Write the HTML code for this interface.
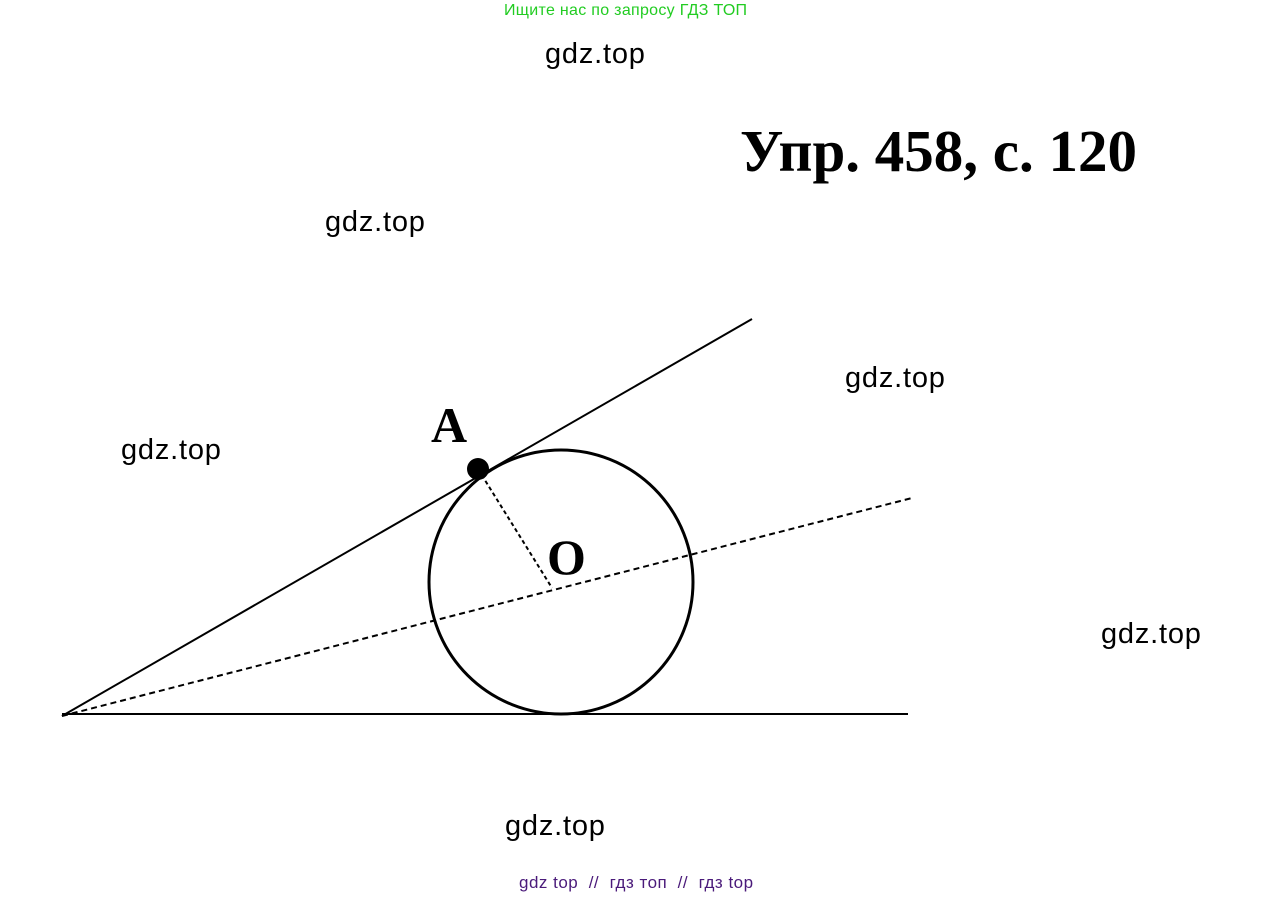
<!DOCTYPE html>
<html><head><meta charset="utf-8"><style>
body{margin:0;width:1268px;height:898px;background:#fff;position:relative;overflow:hidden;font-family:"Liberation Sans",sans-serif}
.t{position:absolute;white-space:nowrap}
.g{font-size:29px;color:#000;letter-spacing:0.8px}
</style></head><body>
<div class="t" style="left:504px;top:2px;font-size:16px;color:#22cc22;letter-spacing:0.3px">Ищите нас по запросу ГДЗ ТОП</div>
<div class="t g" style="left:545px;top:38px">gdz.top</div>
<div class="t g" style="left:325px;top:206px">gdz.top</div>
<div class="t g" style="left:845px;top:362px">gdz.top</div>
<div class="t g" style="left:121px;top:434px">gdz.top</div>
<div class="t g" style="left:1101px;top:618px">gdz.top</div>
<div class="t g" style="left:505px;top:810px">gdz.top</div>
<div class="t" style="left:519px;top:873px;font-size:17px;color:#4a1a7a;letter-spacing:0.5px">gdz top &nbsp;// &nbsp;гдз топ &nbsp;// &nbsp;гдз top</div>
<div class="t" style="left:740px;top:117px;font-family:'Liberation Serif',serif;font-weight:bold;font-size:59px;color:#000">Упр. 458, с. 120</div>
<svg width="1268" height="898" style="position:absolute;left:0;top:0">
<g stroke="#000" fill="none">
<line x1="62" y1="716" x2="752" y2="319" stroke-width="2"/>
<line x1="62" y1="714" x2="908" y2="714" stroke-width="2"/>
<line x1="62" y1="716" x2="912" y2="498" stroke-width="2" stroke-dasharray="6,4"/>
<circle cx="561" cy="582" r="132" stroke-width="3"/>
<line x1="478" y1="469" x2="552" y2="588" stroke-width="2" stroke-dasharray="4,3"/>
</g>
<circle cx="478" cy="469" r="11" fill="#000"/>
<text x="431" y="442" font-family="Liberation Serif,serif" font-weight="bold" font-size="50" fill="#000">A</text>
<text x="547" y="574" font-family="Liberation Serif,serif" font-weight="bold" font-size="50" fill="#000">O</text>
</svg>
</body></html>
